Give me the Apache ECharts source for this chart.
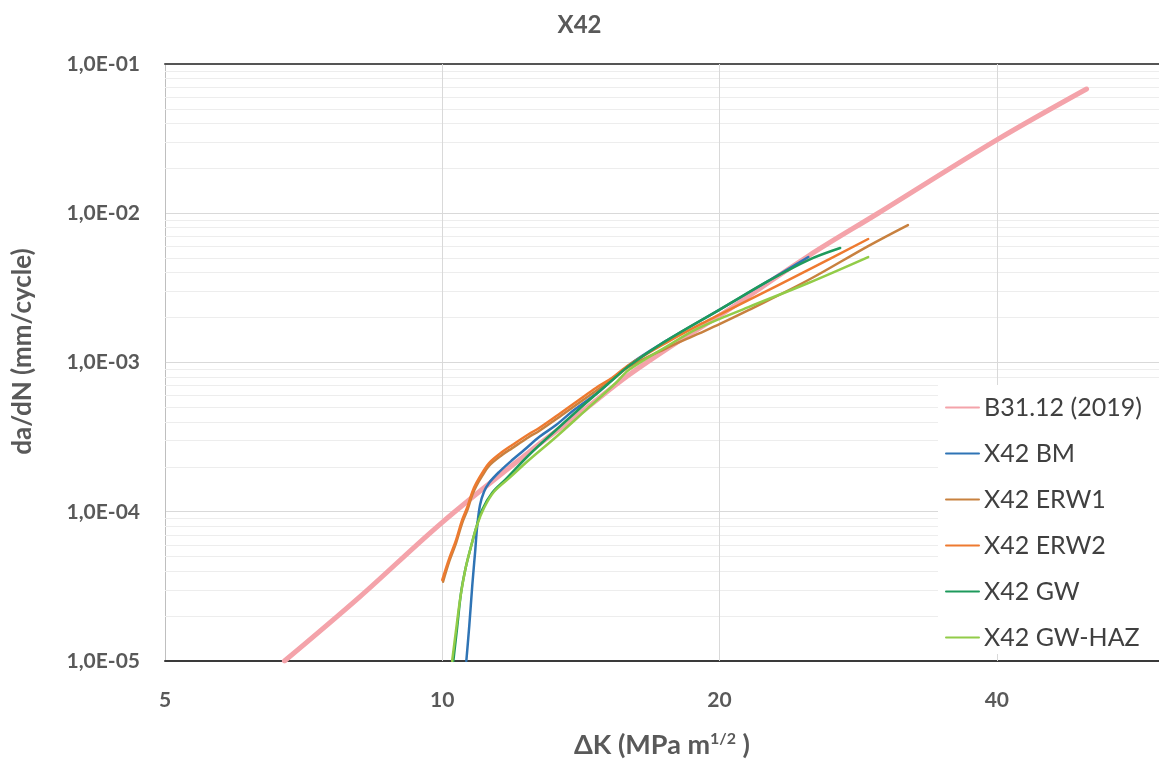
<!DOCTYPE html>
<html>
<head>
<meta charset="utf-8">
<title>X42</title>
<script src="https://cdn.jsdelivr.net/npm/echarts@6/dist/echarts.min.js"></script>
<style>
  html, body { margin: 0; padding: 0; background: #ffffff; }
  #chart { width: 1159px; height: 760px; }
</style>
</head>
<body>
<div id="chart"></div>
<script>
// Fatigue crack growth rate da/dN (mm/cycle) versus stress intensity range ΔK (MPa m^1/2)
const chartTitle = 'X42';
const seriesNames = ['B31.12 (2019)', 'X42 BM', 'X42 ERW1', 'X42 ERW2', 'X42 GW', 'X42 GW-HAZ'];

// [ΔK, da/dN]
const b31Curve = [
  [6.74, 1.0e-5], [8.13, 2.68e-5], [10.0, 8.5e-5], [12.42, 2.51e-4], [14.07, 4.52e-4],
  [15.94, 8.24e-4], [18.06, 1.39e-3], [20.05, 2.08e-3], [24.97, 5.17e-3], [29.73, 1.0e-2],
  [40.0, 3.10e-2], [50.06, 6.8e-2]
];
const x42BM = [
  [10.62, 1.0e-5], [10.70, 1.74e-5], [10.78, 3.23e-5], [10.86, 5.54e-5], [10.91, 7.9e-5],
  [10.99, 1.11e-4], [11.10, 1.36e-4], [11.24, 1.56e-4], [11.53, 1.85e-4], [11.91, 2.22e-4],
  [12.27, 2.59e-4], [12.74, 3.17e-4], [13.29, 3.81e-4], [13.90, 4.80e-4], [14.87, 6.54e-4],
  [15.94, 9.6e-4], [17.48, 1.39e-3], [20.05, 2.28e-3], [22.60, 3.52e-3], [24.97, 5.09e-3]
];
const x42ERW1 = [
  [10.02, 3.4e-5], [10.18, 4.68e-5], [10.35, 6.17e-5], [10.51, 8.41e-5], [10.65, 1.03e-4],
  [10.78, 1.30e-4], [10.89, 1.49e-4], [11.05, 1.74e-4], [11.24, 2.03e-4], [11.61, 2.40e-4],
  [11.91, 2.67e-4], [12.42, 3.17e-4], [12.74, 3.48e-4], [13.49, 4.45e-4], [14.07, 5.35e-4],
  [14.68, 6.44e-4], [15.28, 7.63e-4], [15.94, 9.33e-4], [17.48, 1.24e-3], [18.98, 1.56e-3],
  [20.05, 1.82e-3], [21.50, 2.24e-3], [24.97, 3.57e-3], [29.00, 6.03e-3], [32.03, 8.34e-3]
];
const x42ERW2 = [
  [10.00, 3.49e-5], [10.18, 4.90e-5], [10.35, 6.46e-5], [10.51, 8.81e-5], [10.65, 1.08e-4],
  [10.78, 1.36e-4], [10.89, 1.56e-4], [11.05, 1.82e-4], [11.24, 2.12e-4], [11.61, 2.51e-4],
  [11.91, 2.80e-4], [12.42, 3.32e-4], [12.74, 3.64e-4], [13.49, 4.66e-4], [14.07, 5.61e-4],
  [14.68, 6.75e-4], [15.28, 7.87e-4], [15.94, 9.62e-4], [17.48, 1.35e-3], [18.98, 1.78e-3],
  [20.05, 2.11e-3], [21.50, 2.62e-3], [24.97, 4.17e-3], [29.00, 6.72e-3]
];
const x42GW = [
  [10.28, 1.0e-5], [10.38, 1.69e-5], [10.48, 2.86e-5], [10.59, 4.07e-5], [10.70, 5.29e-5],
  [10.89, 7.90e-5], [11.05, 1.03e-4], [11.33, 1.34e-4], [11.73, 1.66e-4], [12.42, 2.40e-4],
  [13.29, 3.53e-4], [14.32, 5.35e-4], [15.43, 7.99e-4], [15.94, 9.47e-4], [17.48, 1.39e-3],
  [20.05, 2.28e-3], [22.60, 3.52e-3], [24.97, 4.86e-3], [27.04, 5.85e-3]
];
const x42GWHAZ = [
  [10.25, 1.0e-5], [10.35, 1.61e-5], [10.46, 2.64e-5], [10.59, 4.07e-5], [10.72, 5.54e-5],
  [10.91, 8.15e-5], [11.10, 1.06e-4], [11.38, 1.36e-4], [11.82, 1.68e-4], [12.42, 2.22e-4],
  [13.29, 3.17e-4], [14.32, 4.80e-4], [15.43, 7.29e-4], [15.94, 8.91e-4], [17.48, 1.27e-3],
  [18.98, 1.70e-3], [21.50, 2.35e-3], [24.97, 3.41e-3], [29.00, 5.09e-3]
];

// Axis ticks and gridlines
const xTickValues = [5, 10, 20, 40];
const xGridValues = [10, 20, 40];
const yDecades = [1e-5, 1e-4, 1e-3, 1e-2];
const yMinorSteps = [2, 3, 4, 5, 6, 7, 8, 9];

const seriesData = [b31Curve, x42BM, x42ERW1, x42ERW2, x42GW, x42GWHAZ];
const seriesColors = ['#F4A3AA', '#2F74B5', '#C8813F', '#EE7A30', '#1E9A5C', '#92CC48'];
const seriesWidths = [5, 2.5, 2.5, 2.5, 2.5, 2.5];

const FONT = 'Lato, "Liberation Sans", sans-serif';

function sciLabel(v) {
  const e = Math.round(Math.log10(v));
  const a = Math.abs(e);
  return '1,0E' + (e < 0 ? '-' : '+') + (a < 10 ? '0' + a : a);
}

const minorLines = [];
yDecades.forEach(function (d) {
  yMinorSteps.forEach(function (m) {
    minorLines.push({ yAxis: m * d });
  });
});
const verticalLines = xGridValues.map(function (v) {
  return { xAxis: v, lineStyle: { color: '#D9D9D9', width: 1, type: 'solid' } };
});

const chart = echarts.init(document.getElementById('chart'), null, { renderer: 'canvas' });

const series = [{
  type: 'line',
  data: [],
  z: 1,
  silent: true,
  markLine: {
    silent: true,
    z: 1,
    precision: 12,
    symbol: ['none', 'none'],
    label: { show: false },
    emphasis: { disabled: true },
    animation: false,
    lineStyle: { color: '#EDEDED', width: 1, type: 'solid' },
    data: minorLines.concat(verticalLines)
  }
}];

seriesNames.forEach(function (name, i) {
  series.push({
    name: name,
    type: 'line',
    data: seriesData[i],
    showSymbol: false,
    symbol: 'none',
    smooth: 0.35,
    z: 2 + i,
    lineStyle: { color: seriesColors[i], width: seriesWidths[i], cap: 'round', join: 'round' },
    itemStyle: { color: seriesColors[i] },
    emphasis: { disabled: true }
  });
});

chart.setOption({
  animation: false,
  backgroundColor: '#ffffff',
  textStyle: { fontFamily: FONT },
  title: {
    text: chartTitle,
    left: 'center',
    top: 8,
    textStyle: { fontFamily: FONT, fontSize: 24, fontWeight: 'bold', color: '#595959' }
  },
  legend: {
    data: seriesNames,
    orient: 'vertical',
    left: 938,
    top: 385,
    padding: [10, 30, 4, 7],
    backgroundColor: '#ffffff',
    itemWidth: 33,
    itemHeight: 14,
    itemGap: 21,
    selectedMode: false,
    itemStyle: { opacity: 0 },
    textStyle: { fontFamily: FONT, fontSize: 25, color: '#404040', lineHeight: 25 }
  },
  grid: { left: 165, right: 0, top: 64, bottom: 99, containLabel: false, outerBoundsMode: 'none' },
  xAxis: [{
    type: 'log',
    logBase: 2,
    min: 5,
    max: 60,
    name: 'ΔK (MPa m{sup|1/2} )',
    nameLocation: 'middle',
    nameGap: 70,
    nameTextStyle: {
      fontFamily: FONT, fontSize: 27, fontWeight: 'bold', color: '#595959',
      rich: { sup: { fontFamily: FONT, fontSize: 16, fontWeight: 'bold', color: '#595959', verticalAlign: 'top', padding: [0, 0, 12, 0] } }
    },
    axisLine: { show: true, lineStyle: { color: '#3A3A3A', width: 2 } },
    axisTick: { show: false },
    splitLine: { show: false },
    minorTick: { show: false },
    axisLabel: {
      customValues: xTickValues,
      margin: 29,
      fontFamily: FONT, fontSize: 21, fontWeight: 'bold', color: '#595959',
      formatter: function (v) { return String(Math.round(v)); }
    }
  }, {
    type: 'log',
    logBase: 2,
    min: 5,
    max: 60,
    position: 'top',
    axisLine: { show: true, onZero: false, lineStyle: { color: '#555555', width: 2 } },
    axisTick: { show: false },
    axisLabel: { show: false },
    splitLine: { show: false }
  }],
  yAxis: {
    type: 'log',
    logBase: 10,
    min: 1e-5,
    max: 1e-1,
    interval: 1,
    name: 'da/dN (mm/cycle)',
    nameLocation: 'middle',
    nameGap: 129,
    nameRotate: 90,
    nameTextStyle: { fontFamily: FONT, fontSize: 26, fontWeight: 'bold', color: '#595959', padding: [0, 0, 0, 22] },
    axisLine: { show: true, lineStyle: { color: '#BFBFBF', width: 1 } },
    axisTick: { show: false },
    splitLine: { show: true, lineStyle: { color: '#D9D9D9', width: 1 } },
    axisLabel: {
      margin: 25,
      fontFamily: FONT, fontSize: 21, fontWeight: 'bold', color: '#595959',
      formatter: sciLabel
    }
  },
  series: series
});
</script>
</body>
</html>
